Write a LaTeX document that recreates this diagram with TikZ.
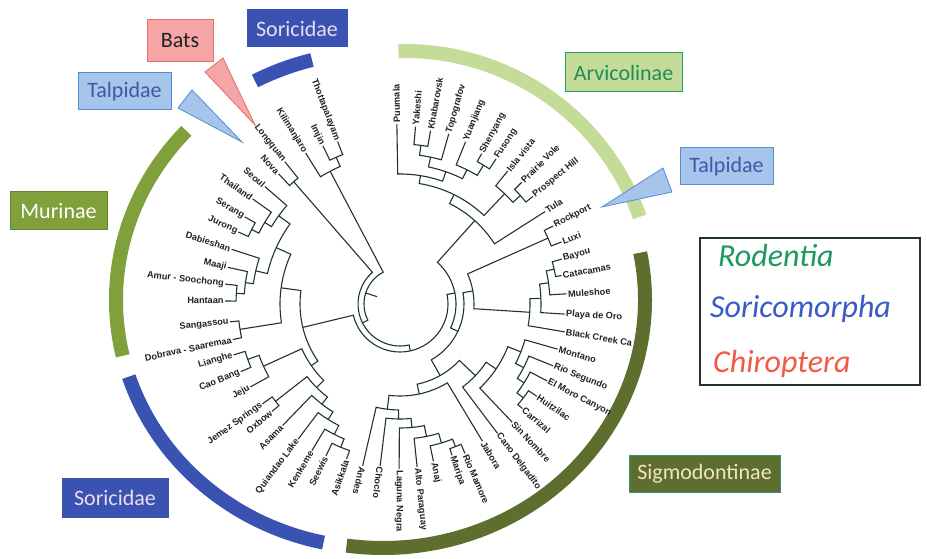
\documentclass[tikz,border=0pt]{standalone}
\usepackage{fontspec}
\setmainfont{Liberation Sans}
\newfontfamily\calfont{Carlito}
\definecolor{brc}{HTML}{1F3336}
\definecolor{txt}{HTML}{222222}
\definecolor{murc}{HTML}{7FA03A}
\definecolor{sigc}{HTML}{5E6E2E}
\definecolor{arvc}{HTML}{C4DC98}
\definecolor{sorc}{HTML}{3A52B2}
\definecolor{talf}{HTML}{A7C4EA}
\definecolor{tald}{HTML}{4F8FD6}
\definecolor{talt}{HTML}{3A5AAA}
\definecolor{batf}{HTML}{F5A5A5}
\definecolor{batd}{HTML}{E86E6A}
\definecolor{arvd}{HTML}{2AA06E}
\definecolor{arvt}{HTML}{1E8C5A}
\definecolor{sigd}{HTML}{2E9478}
\definecolor{sigt}{HTML}{F5E4C0}
\definecolor{sort}{HTML}{ECDDEB}
\definecolor{murd}{HTML}{5E8A2E}
\definecolor{rodc}{HTML}{1A9A5E}
\definecolor{socc}{HTML}{3A5AC8}
\definecolor{chic}{HTML}{F05A46}
\newcommand\tipR[4]{\coordinate (#1) at (#2:#3pt);
  \node[lbl,rotate=#2,anchor=west] (#1l) at (#1) {#4};}
\newcommand\tipL[4]{\coordinate (#1) at (#2:#3pt);
  \node[lbl,rotate=#2+180,anchor=east] (#1l) at (#1) {#4};}
\newcommand\clade[7]{\coordinate (#1) at (#2:#3pt);
  \draw[br] (#4) -- (#5:#3pt) arc[start angle=#5, end angle=#7, radius=#3pt] -- (#6);}
\begin{document}
\begin{tikzpicture}[x=1pt,y=1pt,
  br/.style={draw=brc, line width=1.1pt},
  lbl/.style={font=\fontsize{9.2}{10}\selectfont\bfseries, text=txt, inner sep=1.2pt},
  band/.style={line width=14pt},
  box/.style={font=\calfont\fontsize{22}{24}\selectfont, line width=1pt, inner sep=0pt}]
\useasboundingbox (0,0) rectangle (927,558);
\fill[white] (0,0) rectangle (927,558);
% ---------------- bands ----------------
\begin{scope}[shift={(378,258)}]
  \draw[band, draw=murc] (137:262pt and 248pt) arc[start angle=137, end angle=193, x radius=262pt, y radius=248pt];
  \draw[band, draw=sorc] (198:262pt and 248pt) arc[start angle=198, end angle=258, x radius=262pt, y radius=248pt];
  \draw[band, draw=sorc] (104.6:262pt and 248pt) arc[start angle=104.6, end angle=118, x radius=262pt, y radius=248pt];
\end{scope}
\begin{scope}[shift={(405,258)}]
  \draw[band, draw=arvc] (19.5:249pt) arc[start angle=19.5, end angle=91.5, radius=249pt];
\end{scope}
\begin{scope}[shift={(383,258)}]
  \draw[band, draw=sigc] (11:262pt and 248pt) arc[start angle=11, end angle=-98, x radius=262pt, y radius=248pt];
\end{scope}
% ---------------- triangles ----------------
\coordinate (tr1) at (602,351); \coordinate (tr2) at (663,390); \coordinate (tr3) at (672,366);
\draw[fill=talf, draw=tald, line width=0.8pt] (tr1) -- (tr2) -- (tr3) -- cycle;
\coordinate (tl1) at (242,416); \coordinate (tl2) at (178,450); \coordinate (tl3) at (192,468);
\draw[fill=talf, draw=tald, line width=0.8pt] (tl1) -- (tl2) -- (tl3) -- cycle;
\coordinate (tb1) at (255,433); \coordinate (tb2) at (205,486); \coordinate (tb3) at (223,500);
\draw[fill=batf, draw=batd, line width=0.8pt] (tb1) -- (tb2) -- (tb3) -- cycle;
% ---------------- boxes ----------------
\node[box, fill=batf, draw=batd, text=txt, minimum width=66pt, minimum height=42pt] (bats) at (180,517) {Bats};
\node[box, fill=sorc, draw=sorc, text=sort, minimum width=100pt, minimum height=37pt] (sortop) at (297,529.5) {Soricidae};
\node[box, fill=talf, draw=tald, text=talt, minimum width=93pt, minimum height=37pt] (talleft) at (124.5,466.5) {Talpidae};
\node[box, fill=arvc, draw=arvd, text=arvt, minimum width=117pt, minimum height=39pt] (arvbox) at (623.5,485.5) {Arvicolinae};
\node[box, fill=talf, draw=tald, text=talt, minimum width=93pt, minimum height=37pt] (talright) at (726.5,391.5) {Talpidae};
\node[box, fill=murc, draw=murd, text=white, minimum width=97pt, minimum height=38pt] (murbox) at (58.5,347) {Murinae};
\node[box, fill=sorc, draw=sorc, text=sort, minimum width=106pt, minimum height=39pt] (sorbot) at (115,60.5) {Soricidae};
\node[box, fill=sigc, draw=sigd, text=sigt, minimum width=151pt, minimum height=37pt] (sigbox) at (704.5,84.5) {Sigmodontinae};
% legend
\node[draw=brc, line width=1.4pt, minimum width=220pt, minimum height=147pt, inner sep=0pt] (legend) at (810,246.5) {};
\node[font=\calfont\itshape\fontsize{32}{34}\selectfont, text=rodc, anchor=base west, inner sep=0pt] (rod) at (718,291) {Rodentia};
\node[font=\calfont\itshape\fontsize{32}{34}\selectfont, text=socc, anchor=base west, inner sep=0pt] (soc) at (710,241) {Soricomorpha};
\node[font=\calfont\itshape\fontsize{32}{34}\selectfont, text=chic, anchor=base west, inner sep=0pt] (chi) at (713,186) {Chiroptera};
% ---------------- tree ----------------
\begin{scope}[shift={(400,254)}]
\tipR{Puu}{91}{180}{Puumala}
\tipR{Yak}{85}{178}{Yakeshi}
\tipR{Kha}{80}{176}{Khabarovsk}
\tipR{Top}{74}{177}{Topografov}
\tipR{Yua}{68}{175}{Yuanjiang}
\tipR{She}{61.5}{171}{Shenyang}
\tipR{Fus}{56.5}{174}{Fusong}
\tipR{Isl}{51}{171}{Isla vista}
\tipR{Pra}{45}{172}{Prairie Vole}
\tipR{Pro}{39}{171}{Prospect Hill}
\tipR{Tul}{32.5}{172}{Tula}
\tipR{Roc}{27}{172}{Rockport}
\tipR{Lux}{21}{173}{Luxi}
\tipR{Bay}{15.5}{168}{Bayou}
\tipR{Cat}{10}{164}{Catacamas}
\tipR{Mul}{3.5}{167}{Muleshoe}
\tipR{Pla}{-3.5}{165}{Playa de Oro}
\tipR{Bla}{-9.6}{167}{Black Creek Ca}
\tipR{Mon}{-16}{164}{Montano}
\tipR{RiS}{-22}{165}{Rio Segundo}
\tipR{ElM}{-27.6}{166}{El Moro Canyon}
\tipR{Hui}{-34}{165}{Huitzilac}
\tipR{Car}{-40.5}{161}{Carrizal}
\tipR{Sin}{-46.5}{163}{Sin Nombre}
\tipR{Can}{-53}{162}{Cano Delgadito}
\tipR{Jab}{-59}{160}{Jabora}
\tipR{RiM}{-66.5}{163}{Rio Mamore}
\tipR{Mar}{-71}{160}{Maripa}
\tipR{Ana}{-78}{161}{Anaj}
\tipR{Alt}{-84}{164}{Alto Paraguay}
\tipR{Lag}{-90.3}{165}{Laguna Negra}
\tipR{Cho}{-97}{163}{Choclo}
\tipR{And}{-103}{166}{Andes}
\tipL{Asi}{251}{164}{Asikkala}
\tipL{See}{244}{169}{Seewis}
\tipL{Ken}{239}{171}{Kenkeme}
\tipL{Qui}{233}{169}{Quiandao Lake}
\tipL{Asa}{226}{169}{Asama}
\tipL{Oxb}{220}{167}{Oxbow}
\tipL{Jem}{216}{170}{Jemez Springs}
\tipL{Jej}{209}{171}{Jeju}
\tipL{Cao}{203}{173}{Cao Bang}
\tipL{Lia}{197}{174}{Lianghe}
\tipL{Dob}{192}{171}{Dobrava - Saaremaa}
\tipL{San}{186}{171}{Sangassou}
\tipL{Han}{179}{175}{Hantaan}
\tipL{Amu}{173.5}{176}{Amur - Soochong}
\tipL{Maa}{168}{176}{Maaji}
\tipL{Dab}{162}{177}{Dabieshan}
\tipL{Jur}{156}{177}{Jurong}
\tipL{Ser}{150.7}{178}{Serang}
\tipL{Tha}{144.5}{181}{Thailand}
\tipL{Seo}{139}{179}{Seoul}
\tipL{Nov}{133}{178}{Nova}
\tipL{Lon}{129}{183}{Longquan}
\tipL{Kil}{122}{178}{Kilimanjaro}
\tipL{Imj}{116}{176}{Imjin}
\tipL{Tho}{111}{174}{Thottapalayam}
% Arvicolinae
\clade{YK}{82.5}{160}{Yak}{85}{Kha}{80}
\clade{YKT}{78.25}{150}{YK}{82.5}{Top}{74}
\clade{SF}{59}{162}{She}{61.5}{Fus}{56.5}
\clade{YSF}{63.5}{150}{Yua}{68}{SF}{59}
\clade{GA}{70.88}{140}{YKT}{78.25}{YSF}{63.5}
\clade{PG}{80.94}{130}{Puu}{91}{GA}{70.88}
\clade{PP}{42}{162}{Pra}{45}{Pro}{39}
\clade{IPP}{46.5}{152}{Isl}{51}{PP}{42}
\clade{AA}{63.72}{122}{PG}{80.94}{IPP}{46.5}
\clade{Arv}{48.11}{112}{AA}{63.72}{Tul}{32.5}
\clade{RL}{24}{162}{Roc}{27}{Lux}{21}
% Sigmodontinae
\clade{BC}{12.75}{158}{Bay}{15.5}{Cat}{10}
\clade{BCM}{8.13}{150}{BC}{12.75}{Mul}{3.5}
\clade{BCMP}{2.31}{141}{BCM}{8.13}{Pla}{-3.5}
\clade{BCMPB}{-3.65}{130}{BCMP}{2.31}{Bla}{-9.6}
\clade{HC}{-37.25}{155}{Hui}{-34}{Car}{-40.5}
\clade{HCE}{-32.43}{147}{ElM}{-27.6}{HC}{-37.25}
\clade{HCER}{-27.22}{139}{RiS}{-22}{HCE}{-32.43}
\clade{HCERM}{-21.61}{130}{Mon}{-16}{HCER}{-27.22}
\clade{SN}{-34.06}{116}{HCERM}{-21.61}{Sin}{-46.5}
\clade{SNC}{-43.53}{104}{SN}{-34.06}{Can}{-53}
\clade{RM}{-68.75}{153}{RiM}{-66.5}{Mar}{-71}
\clade{RMA}{-73.38}{145}{RM}{-68.75}{Ana}{-78}
\clade{RMAA}{-78.69}{135}{RMA}{-73.38}{Alt}{-84}
\clade{NTa}{-84.5}{124}{RMAA}{-78.69}{Lag}{-90.3}
\clade{NTb}{-90.75}{115}{NTa}{-84.5}{Cho}{-97}
\clade{NTc}{-96.88}{106}{NTb}{-90.75}{And}{-103}
\clade{JNT}{-77.94}{92}{Jab}{-59}{NTc}{-96.88}
\clade{SigR}{-60.74}{82}{SNC}{-43.53}{JNT}{-77.94}
\clade{RLB}{10.18}{74}{RL}{24}{BCMPB}{-3.65}
\clade{RS}{-25.28}{64}{RLB}{10.18}{SigR}{-60.74}
\clade{Right}{11.42}{56}{Arv}{48.11}{RS}{-25.28}
% Soricidae
\clade{SA}{247.5}{155}{See}{244}{Asi}{251}
\clade{SAK}{243.25}{146}{Ken}{239}{SA}{247.5}
\clade{SAKQ}{238.13}{136}{Qui}{233}{SAK}{243.25}
\clade{SAKQA}{232.06}{127}{Asa}{226}{SAKQ}{238.13}
\clade{JO}{218}{158}{Jem}{216}{Oxb}{220}
\clade{STwo}{225.03}{118}{JO}{218}{SAKQA}{232.06}
\clade{LC}{200}{162}{Lia}{197}{Cao}{203}
\clade{LCJ}{204.5}{150}{LC}{200}{Jej}{209}
\clade{Sor}{214.77}{108}{LCJ}{204.5}{STwo}{225.03}
% Murinae
\clade{SJ}{153.35}{166}{Ser}{150.7}{Jur}{156}
\clade{TSJ}{148.93}{158}{Tha}{144.5}{SJ}{153.35}
\clade{STSJ}{143.97}{150}{Seo}{139}{TSJ}{148.93}
\clade{AH}{176.25}{164}{Amu}{173.5}{Han}{179}
\clade{MAH}{172.13}{156}{Maa}{168}{AH}{176.25}
\clade{DMAH}{167.07}{148}{Dab}{162}{MAH}{172.13}
\clade{MM}{155.52}{136}{STSJ}{143.97}{DMAH}{167.07}
\clade{SD}{189}{162}{San}{186}{Dob}{192}
\clade{Mur}{172.26}{120}{MM}{155.52}{SD}{189}
\clade{ML}{193.52}{100}{Mur}{172.26}{Sor}{214.77}
% outgroups
\clade{TI}{113.5}{160}{Tho}{111}{Imj}{116}
\clade{KTI}{117.75}{150}{TI}{113.5}{Kil}{122}
\clade{LN}{131}{162}{Lon}{129}{Nov}{133}
% inner
\clade{X}{282.46}{48}{Right}{371.42}{ML}{193.52}
\clade{Y}{206.73}{42}{X}{282.46}{LN}{131}
\clade{Root}{162.24}{36}{Y}{206.73}{KTI}{117.75}
\coordinate (rootin) at (162.24:24pt);
\draw[br] (rootin) -- (Root);
\end{scope}
\end{tikzpicture}
\end{document}
